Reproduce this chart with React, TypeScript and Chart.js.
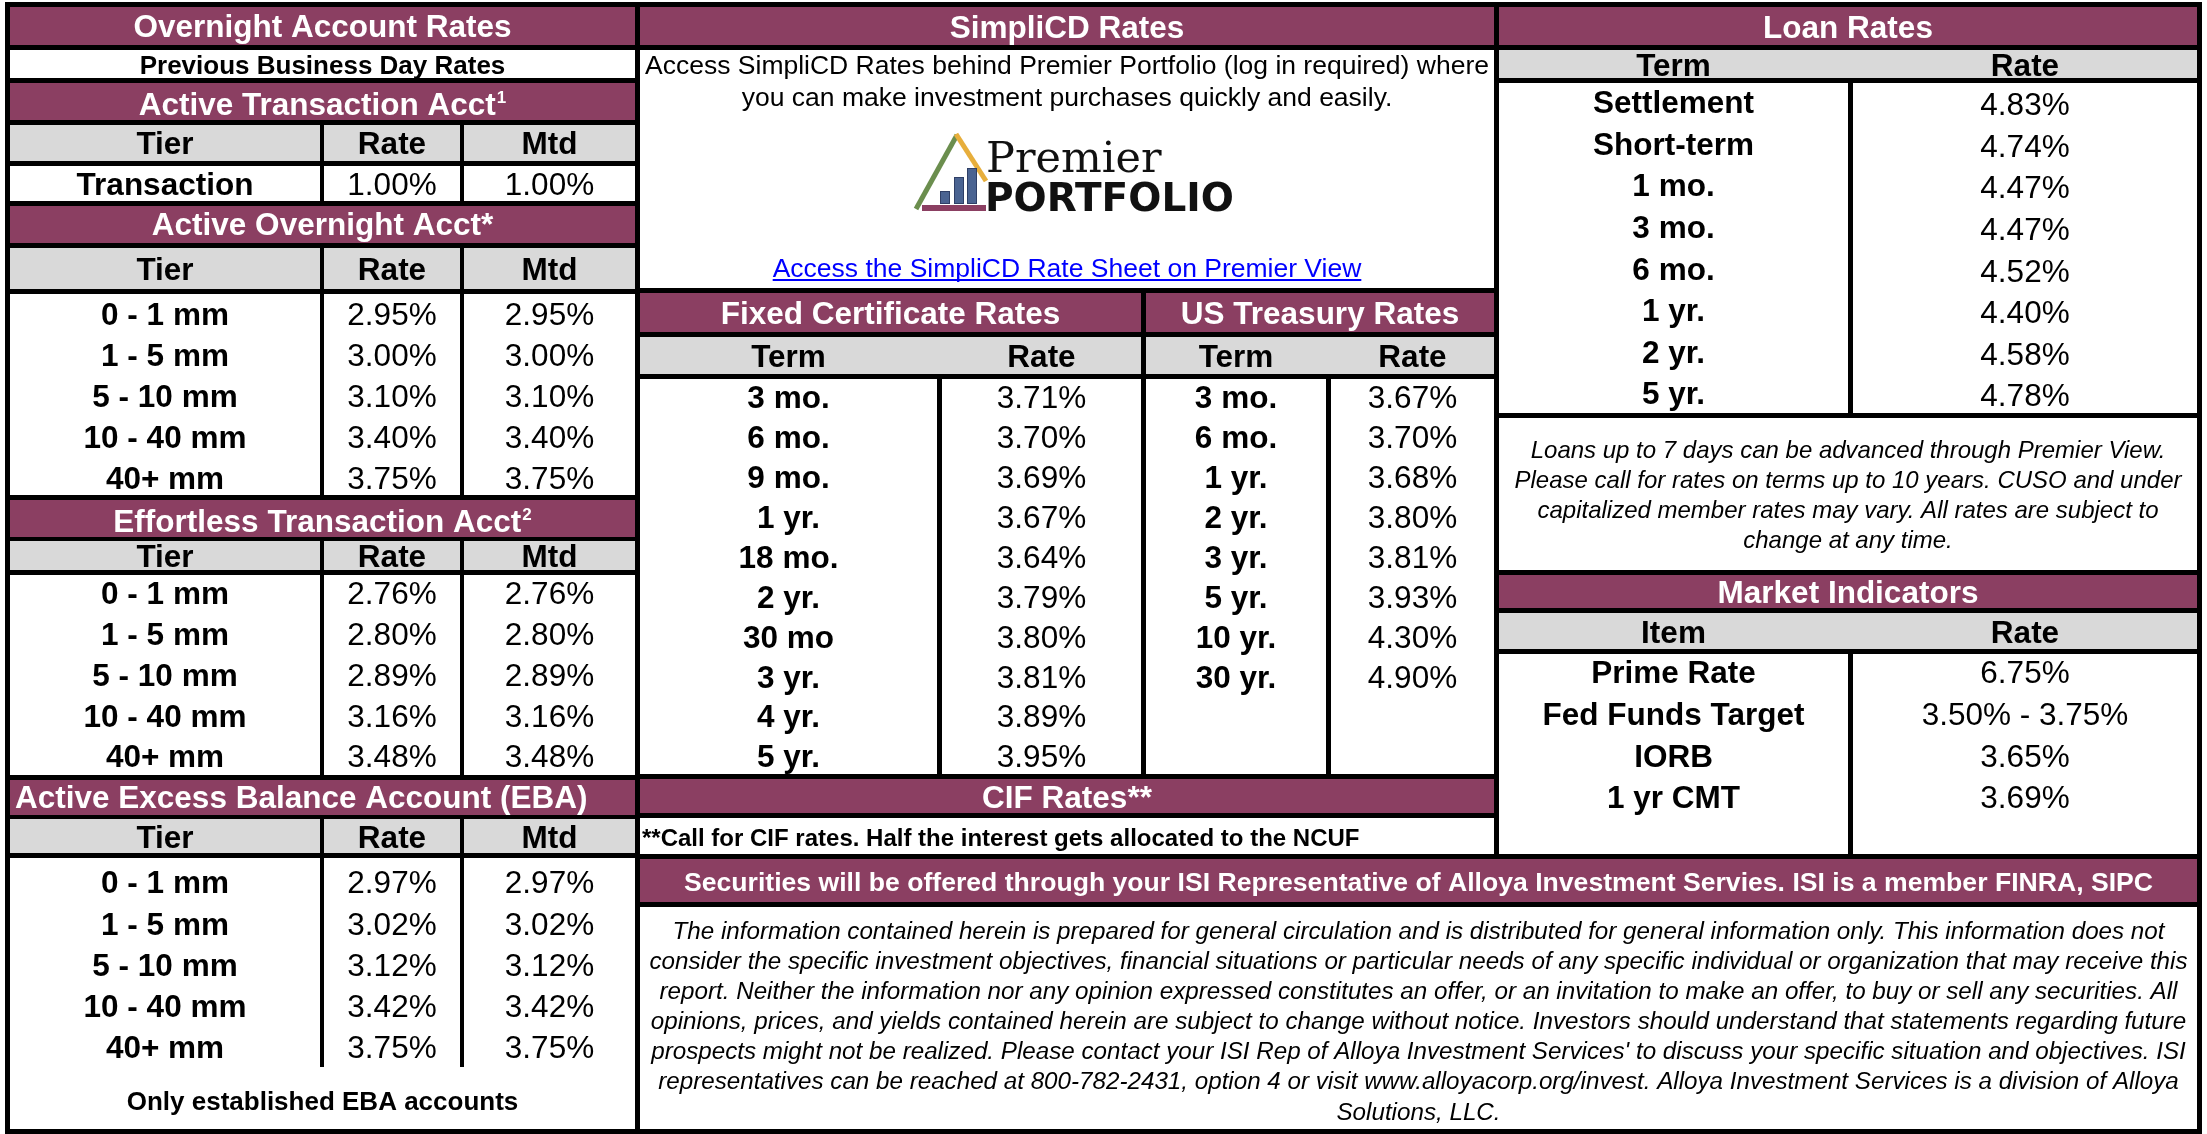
import React, { useEffect, useRef } from "react";
import { Chart, registerables } from "chart.js";

Chart.register(...registerables);

const W = 2207;
const H = 1134;

// ---------- data ----------
const TIER_HEADERS = ["Tier", "Rate", "Mtd"];
const TRANSACTION_TIERS = ["Transaction"];
const TRANSACTION_RATES = [1.0];
const TRANSACTION_MTD = [1.0];

const TIERS = ["0 - 1 mm", "1 - 5 mm", "5 - 10 mm", "10 - 40 mm", "40+ mm"];
const OVERNIGHT_RATES = [2.95, 3.0, 3.1, 3.4, 3.75];
const OVERNIGHT_MTD = [2.95, 3.0, 3.1, 3.4, 3.75];
const EFFORTLESS_RATES = [2.76, 2.8, 2.89, 3.16, 3.48];
const EFFORTLESS_MTD = [2.76, 2.8, 2.89, 3.16, 3.48];
const EBA_RATES = [2.97, 3.02, 3.12, 3.42, 3.75];
const EBA_MTD = [2.97, 3.02, 3.12, 3.42, 3.75];

const TERM_HEADERS = ["Term", "Rate"];
const CD_TERMS = ["3 mo.", "6 mo.", "9 mo.", "1 yr.", "18 mo.", "2 yr.", "30 mo", "3 yr.", "4 yr.", "5 yr."];
const CD_RATES = [3.71, 3.7, 3.69, 3.67, 3.64, 3.79, 3.8, 3.81, 3.89, 3.95];
const UST_TERMS = ["3 mo.", "6 mo.", "1 yr.", "2 yr.", "3 yr.", "5 yr.", "10 yr.", "30 yr."];
const UST_RATES = [3.67, 3.7, 3.68, 3.8, 3.81, 3.93, 4.3, 4.9];

const LOAN_TERMS = ["Settlement", "Short-term", "1 mo.", "3 mo.", "6 mo.", "1 yr.", "2 yr.", "5 yr."];
const LOAN_RATES = [4.83, 4.74, 4.47, 4.47, 4.52, 4.4, 4.58, 4.78];

const MARKET_HEADERS = ["Item", "Rate"];
const MARKET_ITEMS = ["Prime Rate", "Fed Funds Target", "IORB", "1 yr CMT"];
const MARKET_RATES = ["6.75%", "3.50% - 3.75%", "3.65%", "3.69%"];

// ---------- texts ----------
const T_OVERNIGHT = "Overnight Account Rates";
const T_PREV = "Previous Business Day Rates";
const T_ACTIVE_TX = "Active Transaction Acct";
const T_ACTIVE_ON = "Active Overnight Acct*";
const T_EFFORTLESS = "Effortless Transaction Acct";
const T_EBA = "Active Excess Balance Account (EBA)";
const T_EBA_NOTE = "Only established EBA accounts";
const T_SIMPLICD = "SimpliCD Rates";
const SIMPLICD_LINES = [
  "Access SimpliCD Rates behind Premier Portfolio (log in required) where",
  "you can make investment purchases quickly and easily.",
];
const T_LINK = "Access the SimpliCD Rate Sheet on Premier View";
const T_FIXED = "Fixed Certificate Rates";
const T_UST = "US Treasury Rates";
const T_CIF = "CIF Rates**";
const T_CIF_NOTE = "**Call for CIF rates. Half the interest gets allocated to the NCUF";
const T_LOAN = "Loan Rates";
const LOAN_NOTE = [
  "Loans up to 7 days can be advanced through Premier View.",
  "Please call for rates on terms up to 10 years. CUSO and under",
  "capitalized member rates may vary. All rates are subject to",
  "change at any time.",
];
const T_MARKET = "Market Indicators";
const T_SECURITIES =
  "Securities will be offered through your ISI Representative of Alloya Investment Servies. ISI is a member FINRA, SIPC";
const DISCLAIMER = [
  "The information contained herein is prepared for general circulation and is distributed for general information only. This information does not",
  "consider the specific investment objectives, financial situations or particular needs of any specific individual or organization that may receive this",
  "report. Neither the information nor any opinion expressed constitutes an offer, or an invitation to make an offer, to buy or sell any securities. All",
  "opinions, prices, and yields contained herein are subject to change without notice. Investors should understand that statements regarding future",
  "prospects might not be realized. Please contact your ISI Rep of Alloya Investment Services' to discuss your specific situation and objectives. ISI",
  "representatives can be reached at 800-782-2431, option 4 or visit www.alloyacorp.org/invest. Alloya Investment Services is a division of Alloya",
  "Solutions, LLC.",
];

// ---------- style ----------
const FONT = '"Liberation Sans", Arial, Helvetica, sans-serif';
const PURPLE = "#8B3F62";
const GRAY = "#D9D9D9";
const WHITE = "#FFFFFF";
const BLACK = "#000000";
const BIG = 31.5;

const pct = (v: number) => v.toFixed(2) + "%";

const sheetPlugin = {
  id: "rateSheet",
  afterDraw(chart: any) {
    const ctx: CanvasRenderingContext2D = chart.ctx;
    const xs = chart.scales.x;
    const ys = chart.scales.y;
    const X = (v: number) => xs.getPixelForValue(v);
    const Y = (v: number) => ys.getPixelForValue(v);
    const box = (x0: number, y0: number, x1: number, y1: number, c: string) => {
      ctx.fillStyle = c;
      ctx.fillRect(X(x0), Y(y0), X(x1) - X(x0), Y(y1) - Y(y0));
    };
    const font = (size: number, bold = false, italic = false, family = FONT) =>
      `${italic ? "italic " : ""}${bold ? "bold " : ""}${size}px ${family}`;
    const txt = (
      s: string,
      x: number,
      cy: number,
      size: number,
      o: { bold?: boolean; italic?: boolean; color?: string; align?: CanvasTextAlign; family?: string } = {}
    ) => {
      ctx.font = font(size, !!o.bold, !!o.italic, o.family || FONT);
      ctx.fillStyle = o.color || BLACK;
      ctx.textAlign = o.align || "center";
      ctx.textBaseline = "alphabetic";
      ctx.fillText(s, X(x), Y(cy + size * 0.358));
    };
    const SUP = 17;
    const titleSup = (s: string, sup: string, cx: number, cy: number) => {
      ctx.font = font(BIG, true);
      const w1 = ctx.measureText(s).width;
      ctx.font = font(SUP, true);
      const w2 = ctx.measureText(sup).width;
      const left = cx - (w1 + w2 + 1) / 2;
      txt(s, left, cy, BIG, { bold: true, color: WHITE, align: "left" });
      ctx.font = font(SUP, true);
      ctx.fillStyle = WHITE;
      ctx.textAlign = "left";
      ctx.fillText(sup, X(left + w1 + 1), Y(cy + BIG * 0.358 - 12));
    };

    ctx.save();
    box(0, 0, W, H, WHITE);
    box(5, 2, 2202, 1134, BLACK);

    // ===== LEFT PANEL =====
    const L = { x0: 10, x1: 635, c1: 320, c2: 324, c3: 460, c4: 464 };
    const lc = (L.x0 + L.x1) / 2;
    const colX = [(L.x0 + L.c1) / 2, (L.c2 + L.c3) / 2, (L.c4 + L.x1) / 2];
    const three = (y0: number, y1: number, c: string) => {
      box(L.x0, y0, L.c1, y1, c);
      box(L.c2, y0, L.c3, y1, c);
      box(L.c4, y0, L.x1, y1, c);
    };
    const header3 = (cy: number) =>
      TIER_HEADERS.forEach((h, i) => txt(h, colX[i], cy, BIG, { bold: true }));
    const rows3 = (tiers: string[], rates: number[], mtd: number[], y0: number, step: number) =>
      tiers.forEach((t, i) => {
        const cy = y0 + step * i;
        txt(t, colX[0], cy, BIG, { bold: true });
        txt(pct(rates[i]), colX[1], cy, BIG);
        txt(pct(mtd[i]), colX[2], cy, BIG);
      });

    box(L.x0, 7, L.x1, 45, PURPLE);
    txt(T_OVERNIGHT, lc, 26, BIG, { bold: true, color: WHITE });
    box(L.x0, 50, L.x1, 78, WHITE);
    txt(T_PREV, lc, 64.5, 26, { bold: true });
    box(L.x0, 83, L.x1, 120, PURPLE);
    titleSup(T_ACTIVE_TX, "1", lc, 104);
    three(125, 161, GRAY);
    header3(143);
    three(166, 201, WHITE);
    rows3(TRANSACTION_TIERS, TRANSACTION_RATES, TRANSACTION_MTD, 184, 0);
    box(L.x0, 206, L.x1, 243, PURPLE);
    txt(T_ACTIVE_ON, lc, 224, BIG, { bold: true, color: WHITE });
    three(248, 289, GRAY);
    header3(269);
    three(294, 495, WHITE);
    rows3(TIERS, OVERNIGHT_RATES, OVERNIGHT_MTD, 314, 41);
    box(L.x0, 500, L.x1, 537, PURPLE);
    titleSup(T_EFFORTLESS, "2", lc, 521);
    three(541, 570, GRAY);
    header3(556);
    three(575, 775, WHITE);
    rows3(TIERS, EFFORTLESS_RATES, EFFORTLESS_MTD, 593, 40.75);
    box(L.x0, 780, L.x1, 815, PURPLE);
    txt(T_EBA, 15, 797, BIG, { bold: true, color: WHITE, align: "left" });
    three(819, 853, GRAY);
    header3(837);
    box(L.x0, 858, L.x1, 1129, WHITE);
    box(L.c1, 858, L.c2, 1067, BLACK);
    box(L.c3, 858, L.c4, 1067, BLACK);
    rows3(TIERS, EBA_RATES, EBA_MTD, 882, 41.25);
    txt(T_EBA_NOTE, lc, 1101, 26, { bold: true });

    // ===== MIDDLE PANEL =====
    const M = { x0: 640, x1: 1494, f1: 937, f2: 942, f3: 1141, u0: 1146, u1: 1326, u2: 1331 };
    const mc = (M.x0 + M.x1) / 2;
    box(M.x0, 7, M.x1, 45, PURPLE);
    txt(T_SIMPLICD, mc, 26.5, BIG, { bold: true, color: WHITE });
    box(M.x0, 50, M.x1, 288, WHITE);
    txt(SIMPLICD_LINES[0], mc, 65, 26.5);
    txt(SIMPLICD_LINES[1], mc, 97, 26.5);

    // logo
    ctx.lineCap = "butt";
    ctx.lineWidth = 5;
    ctx.strokeStyle = "#6B8E4E";
    ctx.beginPath();
    ctx.moveTo(X(916), Y(209));
    ctx.lineTo(X(957), Y(135));
    ctx.stroke();
    ctx.strokeStyle = "#E7AE3C";
    ctx.beginPath();
    ctx.moveTo(X(956), Y(134));
    ctx.lineTo(X(986), Y(181));
    ctx.stroke();
    const bars: [number, number][] = [
      [940, 191],
      [954, 177],
      [967, 168],
    ];
    bars.forEach(([bx, by]) => {
      box(bx, by, bx + 10, 204, "#4A6391");
      ctx.strokeStyle = "#2F3F66";
      ctx.lineWidth = 1;
      ctx.strokeRect(X(bx) + 0.5, Y(by) + 0.5, X(bx + 10) - X(bx) - 1, Y(204) - Y(by) - 1);
    });
    box(922, 205, 986, 211, PURPLE);
    ctx.fillStyle = "#111111";
    ctx.textAlign = "left";
    ctx.font = font(43, false, false, '"DejaVu Serif", "Liberation Serif", serif');
    ctx.fillText("Premier", X(986), Y(172));
    ctx.font = font(39, true, false, '"DejaVu Sans", sans-serif');
    ctx.fillText("PORTFOLIO", X(985), Y(211));

    // link
    txt(T_LINK, mc, 268, 26.5, { color: "#0000FF" });
    ctx.font = font(26.5);
    const lw = ctx.measureText(T_LINK).width;
    box(mc - lw / 2, 279, mc + lw / 2, 281, "#0000FF");

    box(M.x0, 293, M.f3, 332, PURPLE);
    txt(T_FIXED, (M.x0 + M.f3) / 2, 313, BIG, { bold: true, color: WHITE });
    box(M.u0, 293, M.x1, 332, PURPLE);
    txt(T_UST, (M.u0 + M.x1) / 2, 313, BIG, { bold: true, color: WHITE });
    box(M.x0, 337, M.f3, 374, GRAY);
    box(M.u0, 337, M.x1, 374, GRAY);
    const fTermX = (M.x0 + M.f1) / 2;
    const fRateX = (M.f2 + M.f3) / 2;
    const uTermX = (M.u0 + M.u1) / 2;
    const uRateX = (M.u2 + M.x1) / 2;
    txt(TERM_HEADERS[0], fTermX, 356, BIG, { bold: true });
    txt(TERM_HEADERS[1], fRateX, 356, BIG, { bold: true });
    txt(TERM_HEADERS[0], uTermX, 356, BIG, { bold: true });
    txt(TERM_HEADERS[1], uRateX, 356, BIG, { bold: true });
    box(M.x0, 379, M.f1, 774, WHITE);
    box(M.f2, 379, M.f3, 774, WHITE);
    box(M.u0, 379, M.u1, 774, WHITE);
    box(M.u2, 379, M.x1, 774, WHITE);
    const mStep = 39.9;
    CD_TERMS.forEach((t, i) => {
      const cy = 397 + mStep * i;
      txt(t, fTermX, cy, BIG, { bold: true });
      txt(pct(CD_RATES[i]), fRateX, cy, BIG);
    });
    UST_TERMS.forEach((t, i) => {
      const cy = 397 + mStep * i;
      txt(t, uTermX, cy, BIG, { bold: true });
      txt(pct(UST_RATES[i]), uRateX, cy, BIG);
    });
    box(M.x0, 779, M.x1, 813, PURPLE);
    txt(T_CIF, mc, 797, BIG, { bold: true, color: WHITE });
    box(M.x0, 818, M.x1, 854, WHITE);
    txt(T_CIF_NOTE, 642, 837, 24, { bold: true, align: "left" });

    // ===== RIGHT PANEL =====
    const R = { x0: 1499, x1: 2197, c1: 1848, c2: 1853 };
    const rc = (R.x0 + R.x1) / 2;
    const rTermX = (R.x0 + R.c1) / 2;
    const rRateX = (R.c2 + R.x1) / 2;
    box(R.x0, 7, R.x1, 45, PURPLE);
    txt(T_LOAN, rc, 27, BIG, { bold: true, color: WHITE });
    box(R.x0, 50, R.x1, 78, GRAY);
    txt(TERM_HEADERS[0], rTermX, 65, BIG, { bold: true });
    txt(TERM_HEADERS[1], rRateX, 65, BIG, { bold: true });
    box(R.x0, 83, R.c1, 413, WHITE);
    box(R.c2, 83, R.x1, 413, WHITE);
    LOAN_TERMS.forEach((t, i) => {
      const cy = 102 + 41.6 * i;
      txt(t, rTermX, cy, BIG, { bold: true });
      txt(pct(LOAN_RATES[i]), rRateX, cy + 2, BIG);
    });
    box(R.x0, 418, R.x1, 570, WHITE);
    LOAN_NOTE.forEach((l, i) => txt(l, rc, 449.5 + 30 * i, 24, { italic: true }));
    box(R.x0, 575, R.x1, 608, PURPLE);
    txt(T_MARKET, rc, 592, BIG, { bold: true, color: WHITE });
    box(R.x0, 613, R.x1, 649, GRAY);
    txt(MARKET_HEADERS[0], rTermX, 632, BIG, { bold: true });
    txt(MARKET_HEADERS[1], rRateX, 632, BIG, { bold: true });
    box(R.x0, 654, R.c1, 854, WHITE);
    box(R.c2, 654, R.x1, 854, WHITE);
    MARKET_ITEMS.forEach((t, i) => {
      const cy = 672 + 41.7 * i;
      txt(t, rTermX, cy, BIG, { bold: true });
      txt(MARKET_RATES[i], rRateX, cy, BIG);
    });

    // ===== BOTTOM =====
    const bc = (M.x0 + R.x1) / 2;
    box(M.x0, 859, R.x1, 902, PURPLE);
    txt(T_SECURITIES, bc, 881, 26.6, { bold: true, color: WHITE });
    box(M.x0, 907, R.x1, 1129, WHITE);
    DISCLAIMER.forEach((l, i) => txt(l, bc, 930 + 30.15 * i, 24.2, { italic: true }));

    ctx.restore();
  },
};

export default function App() {
  const ref = useRef<HTMLCanvasElement | null>(null);
  useEffect(() => {
    if (!ref.current) return;
    const chart = new Chart(ref.current, {
      type: "scatter",
      data: { datasets: [] },
      options: {
        responsive: false,
        animation: false,
        devicePixelRatio: 1,
        events: [],
        layout: { padding: 0 },
        plugins: { legend: { display: false }, tooltip: { enabled: false }, title: { display: false } },
        scales: {
          x: { type: "linear", min: 0, max: W, display: false },
          y: { type: "linear", min: 0, max: H, reverse: true, display: false },
        },
      },
      plugins: [sheetPlugin],
    } as any);
    return () => chart.destroy();
  }, []);
  return (
    <div style={{ position: "absolute", left: 0, top: 0, width: W, height: H, background: "#fff" }}>
      <canvas ref={ref} width={W} height={H} style={{ display: "block", width: W, height: H }} />
    </div>
  );
}
